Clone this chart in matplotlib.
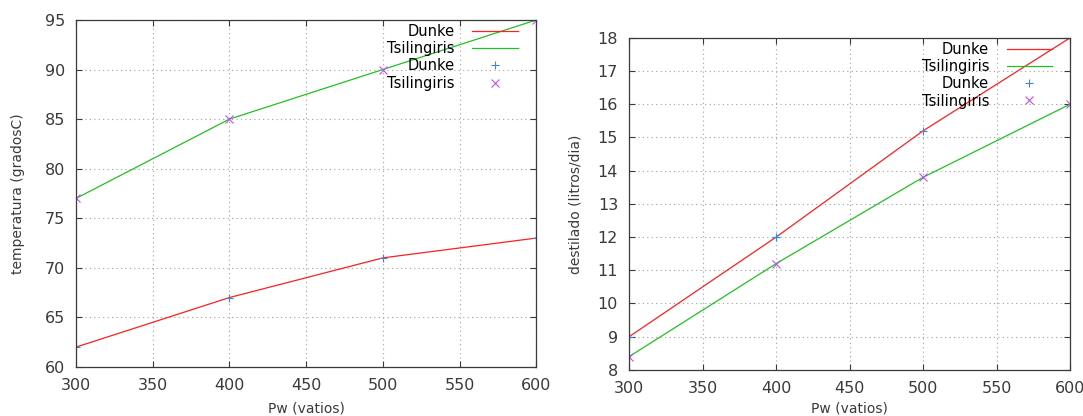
import matplotlib
matplotlib.use("Agg")
import matplotlib.pyplot as plt

# datos
pw = [300, 400, 500, 600]
temp_dunke = [62, 67, 71, 73]
temp_tsil = [77, 85, 90, 95]
dest_dunke = [9, 12, 15.2, 18]
dest_tsil = [8.4, 11.2, 13.8, 16]

red = '#ff2020'
green = '#22c022'
blue = '#2a8cf0'
magenta = '#c050f0'
gris = '#3a3a3a'

plt.rcParams['font.family'] = 'DejaVu Sans'
plt.rcParams['font.size'] = 10

fig = plt.figure(figsize=(10.83, 4.16), dpi=100)
ax1 = fig.add_axes([0.0702, 0.118, 0.425, 0.834])
ax2 = fig.add_axes([0.581, 0.111, 0.407, 0.798])


def estilo(ax):
    ax.grid(True, color='#a0a0a0', linestyle=(0, (1, 3)), linewidth=0.8)
    ax.tick_params(direction='in', top=True, right=True, length=4, pad=8,
                   colors=gris, labelcolor=gris, labelsize=11.5)
    for s in ax.spines.values():
        s.set_color(gris)
        s.set_linewidth(0.9)


def leyenda(ax):
    ax.legend(loc='upper right', frameon=False, markerfirst=False, handlelength=3.1,
              labelspacing=0.15, borderaxespad=0.0, fontsize=10.5, handletextpad=1.2,
              bbox_to_anchor=(0.972, 1.005))


# temperatura
ax1.plot(pw, temp_dunke, color=red, lw=0.9, label='Dunke')
ax1.plot(pw, temp_tsil, color=green, lw=0.9, label='Tsilingiris')
ax1.plot(pw, temp_dunke, '+', color=blue, ms=6, mew=0.8, label='Dunke')
ax1.plot(pw, temp_tsil, 'x', color=magenta, ms=6, mew=0.8, label='Tsilingiris')
ax1.set_xlim(300, 600)
ax1.set_ylim(60, 95)
ax1.set_xticks(range(300, 601, 50))
ax1.set_yticks(range(60, 96, 5))
ax1.set_xlabel('Pw (vatios)', color=gris, labelpad=6)
ax1.set_ylabel('temperatura (gradosC)', color=gris, labelpad=14)
estilo(ax1)
leyenda(ax1)

# destilado
ax2.plot(pw, dest_dunke, color=red, lw=0.9, label='Dunke')
ax2.plot(pw, dest_tsil, color=green, lw=0.9, label='Tsilingiris')
ax2.plot(pw, dest_dunke, '+', color=blue, ms=6, mew=0.8, label='Dunke')
ax2.plot(pw, dest_tsil, 'x', color=magenta, ms=6, mew=0.8, label='Tsilingiris')
ax2.set_xlim(300, 600)
ax2.set_ylim(8, 18)
ax2.set_xticks(range(300, 601, 50))
ax2.set_yticks(range(8, 19, 1))
ax2.set_xlabel('Pw (vatios)', color=gris, labelpad=4)
ax2.set_ylabel('destilado (litros/dia)', color=gris, labelpad=11)
estilo(ax2)
leyenda(ax2)

fig.savefig('out.png', dpi=100)
